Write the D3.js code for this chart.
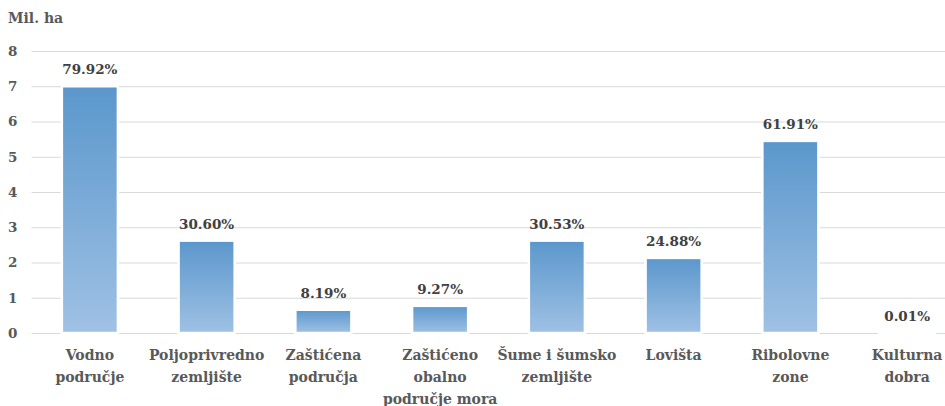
<!DOCTYPE html>
<html>
<head>
<meta charset="utf-8">
<script src="https://cdn.jsdelivr.net/npm/d3@7"></script>
<style>
  body { margin: 0; background: #fff; }
  text { font-family: "DejaVu Serif", serif; font-weight: bold; }
</style>
</head>
<body>
<div id="chart"></div>
<script>
const categories = ["Vodno\npodručje", "Poljoprivredno\nzemljište", "Zaštićena\npodručja",
                    "Zaštićeno\nobalno\npodručje mora", "Šume i šumsko\nzemljište", "Lovišta",
                    "Ribolovne\nzone", "Kulturna\ndobra"]
const values = [7.0, 2.62, 0.66, 0.77, 2.62, 2.13, 5.45, 0.001]
const shares = ["79.92%", "30.60%", "8.19%", "9.27%", "30.53%", "24.88%", "61.91%", "0.01%"]
const yTicks = [0, 1, 2, 3, 4, 5, 6, 7, 8]
const yTitle = "Mil. ha"

const svgWidth = 945
const svgHeight = 406
const plotLeft = 31.5
const plotRight = 965.5
const plotTop = 51
const plotBottom = 333

const svg = d3.select("#chart")
              .append("svg")
              .attr("width", svgWidth)
              .attr("height", svgHeight)

const grad = svg.append("defs")
                .append("linearGradient")
                .attr("id", "barGrad")
                .attr("x1", 0).attr("y1", 0).attr("x2", 0).attr("y2", 1)
grad.append("stop").attr("offset", "0%").attr("stop-color", "#5b97cc")
grad.append("stop").attr("offset", "100%").attr("stop-color", "#9fc1e4")

const xScale = d3.scaleBand()
                 .domain(categories)
                 .range([plotLeft, plotRight])
                 .paddingInner(0.52)
                 .paddingOuter(0.26)
const yScale = d3.scaleLinear()
                 .domain([0, 8])
                 .range([plotBottom, plotTop])

// gridlines + y labels
const yAxis = d3.axisLeft(yScale)
                .tickValues(yTicks)
                .tickSize(-(svgWidth - plotLeft))
                .tickPadding(14)
const gy = svg.append("g")
              .attr("transform", `translate(${plotLeft}, 0)`)
              .call(yAxis)
gy.select(".domain").remove()
gy.selectAll("line").attr("stroke", "#d9d9d9").attr("stroke-width", 1)
gy.selectAll("text")
  .attr("fill", "#595959")
  .style("font-size", "13.5px")

svg.append("text")
   .attr("x", 8)
   .attr("y", 23)
   .attr("fill", "#595959")
   .style("font-size", "14px")
   .text(yTitle)

svg.selectAll("rect.bar")
   .data(values)
   .enter()
   .append("rect")
   .attr("class", "bar")
   .attr("x", (d, i) => xScale(categories[i]))
   .attr("y", d => yScale(d))
   .attr("width", xScale.bandwidth())
   .attr("height", d => yScale(0) - yScale(d))
   .attr("fill", "url(#barGrad)")
   .attr("stroke", "#fff")
   .attr("stroke-width", 2.5)

svg.selectAll("text.share")
   .data(values)
   .enter()
   .append("text")
   .attr("class", "share")
   .attr("x", (d, i) => xScale(categories[i]) + xScale.bandwidth() / 2)
   .attr("y", d => yScale(d) - 12)
   .attr("text-anchor", "middle")
   .attr("fill", "#404040")
   .style("font-size", "13.5px")
   .text((d, i) => shares[i])

// category labels
const xAxis = d3.axisBottom(xScale).tickSize(0).tickFormat("")
const gx = svg.append("g")
              .attr("transform", `translate(0, ${plotBottom})`)
              .call(xAxis)
gx.select(".domain").remove()
gx.selectAll(".tick")
  .append("text")
  .attr("fill", "#595959")
  .attr("text-anchor", "middle")
  .style("font-size", "14px")
  .each(function(d) {
    d.split("\n").forEach((line, i) => {
      d3.select(this).append("tspan")
        .attr("x", 0)
        .attr("y", 27 + i * 22)
        .text(line)
    })
  })
</script>
</body>
</html>
